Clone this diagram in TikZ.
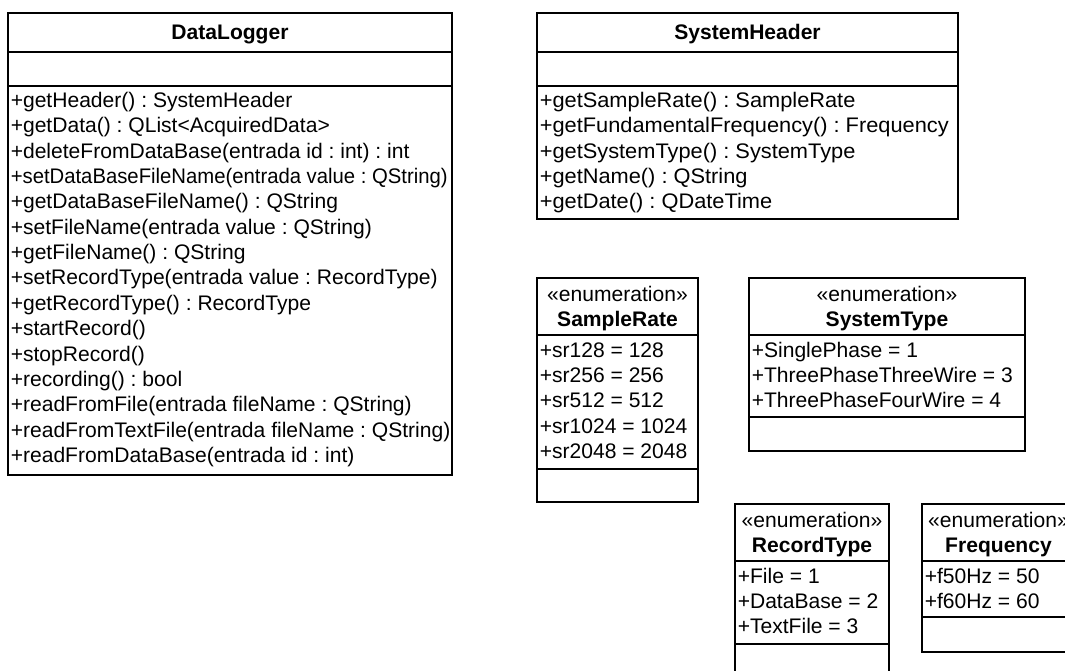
\documentclass[tikz,border=0pt]{standalone}
\usepackage{fontspec}
\setmainfont{Liberation Sans}
\frenchspacing
\begin{document}
\begin{tikzpicture}[x=0.75pt,y=-0.75pt,
  boxline/.style={draw=black,line width=1.2pt},
  mtext/.style={anchor=base west,inner sep=0pt,font=\fontsize{15.8}{19}\selectfont\frenchspacing},
  widetext/.style={mtext,font=\fontsize{15.8}{19}\selectfont\addfontfeature{FakeStretch=1.035}\frenchspacing},
  ttext/.style={anchor=base,inner sep=0pt,font=\fontsize{15.8}{19}\selectfont\bfseries},
  stext/.style={anchor=base,inner sep=0pt,font=\fontsize{15.8}{19}\selectfont}]
\useasboundingbox (0,0) rectangle (1065,671);
\clip (0,0) rectangle (1065,671);
\fill[white] (0,0) rectangle (1065,671);

% DataLogger
\draw[boxline] (8,13) rectangle (452,475);
\draw[boxline] (8,52) -- (452,52);
\draw[boxline] (8,86) -- (452,86);
\node[ttext] (dlt) at (230,40) {DataLogger};
\foreach \t [count=\i from 0] in {{+getHeader() : SystemHeader},{+getData() : QList<AcquiredData>},{+deleteFromDataBase(entrada id : int) : int},{\addfontfeature{FakeStretch=0.963}+setDataBaseFileName(entrada value : QString)},{+getDataBaseFileName() : QString},{+setFileName(entrada value : QString)},{+getFileName() : QString},{+setRecordType(entrada value : RecordType)},{+getRecordType() : RecordType},{+startRecord()},{+stopRecord()},{+recording() : bool},{+readFromFile(entrada fileName : QString)},{+readFromTextFile(entrada fileName : QString)},{+readFromDataBase(entrada id : int)}}
  \node[mtext] (dl-\i) at (10.5,107.5+25.35*\i) {\t};

% SystemHeader
\draw[boxline] (537,13) rectangle (958,219);
\draw[boxline] (537,52) -- (958,52);
\draw[boxline] (537,86) -- (958,86);
\node[ttext] (sht) at (747.5,40) {SystemHeader};
\foreach \t [count=\i from 0] in {{+getSampleRate() : SampleRate},{+getFundamentalFrequency() : Frequency},{+getSystemType() : SystemType},{+getName() : QString},{+getDate() : QDateTime}}
  \node[widetext] (sh-\i) at (539.5,107.5+25.35*\i) {\t};

% SampleRate
\draw[boxline] (537,278) rectangle (698,502);
\draw[boxline] (537,335) -- (698,335);
\draw[boxline] (537,469) -- (698,469);
\node[stext] (srs) at (617.5,301) {«enumeration»};
\node[ttext] (srt) at (617.5,326.5) {SampleRate};
\foreach \t [count=\i from 0] in {{+sr128 = 128},{+sr256 = 256},{+sr512 = 512},{+sr1024 = 1024},{+sr2048 = 2048}}
  \node[mtext] (sr-\i) at (539.5,357+25.35*\i) {\t};

% SystemType
\draw[boxline] (749,278) rectangle (1025,451);
\draw[boxline] (749,335) -- (1025,335);
\draw[boxline] (749,417) -- (1025,417);
\node[stext] (sts) at (887,301) {«enumeration»};
\node[ttext] (stt) at (887,326.5) {SystemType};
\foreach \t [count=\i from 0] in {{+SinglePhase = 1},{+ThreePhaseThreeWire = 3},{+ThreePhaseFourWire = 4}}
  \node[mtext] (st-\i) at (751.5,357+25.35*\i) {\t};

% RecordType
\draw[boxline] (735,504) rectangle (889,690);
\draw[boxline] (735,561) -- (889,561);
\draw[boxline] (735,644) -- (889,644);
\node[stext] (rts) at (812,527) {«enumeration»};
\node[ttext] (rtt) at (812,552.5) {RecordType};
\foreach \t [count=\i from 0] in {{+File = 1},{+DataBase = 2},{+TextFile = 3}}
  \node[mtext] (rt-\i) at (737.5,583+25.35*\i) {\t};

% Frequency
\draw[boxline] (922,504) rectangle (1075,652);
\draw[boxline] (922,561) -- (1075,561);
\draw[boxline] (922,617) -- (1075,617);
\node[stext] (frs) at (998.5,527) {«enumeration»};
\node[ttext] (frt) at (998.5,552.5) {Frequency};
\foreach \t [count=\i from 0] in {{+f50Hz = 50},{+f60Hz = 60}}
  \node[mtext] (fr-\i) at (924.5,583+25.35*\i) {\t};
\end{tikzpicture}
\end{document}
